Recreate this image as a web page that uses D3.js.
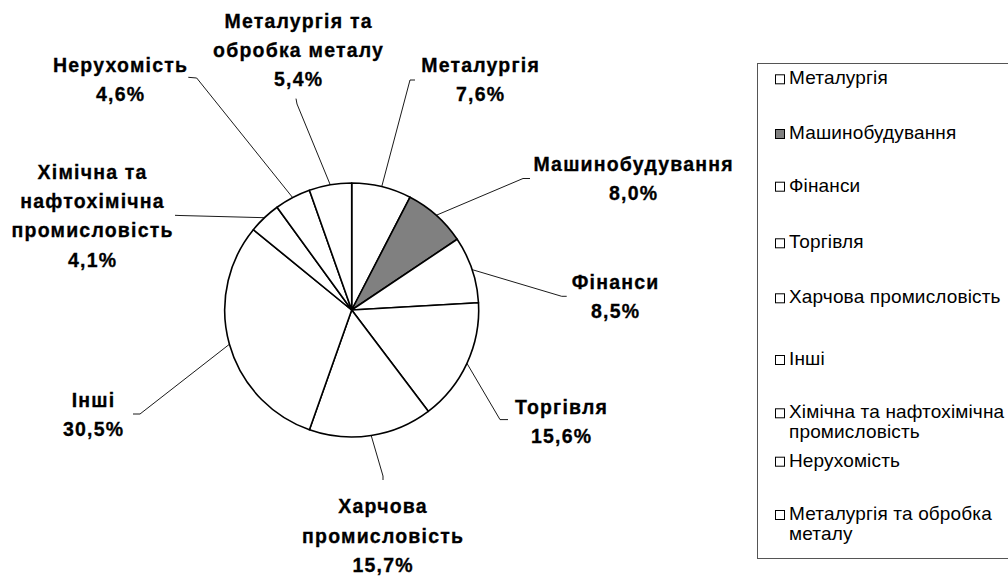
<!DOCTYPE html>
<html><head><meta charset="utf-8">
<script src="https://cdn.jsdelivr.net/npm/d3@7"></script>
<style>body{margin:0;background:#fff} svg{display:block}</style>
</head><body>
<svg id="chart" width="1008" height="577"></svg>
<script>
// ---- data ----
const categories = ["Металургія","Машинобудування","Фінанси","Торгівля","Харчова промисловість","Інші","Хімічна та нафтохімічна промисловість","Нерухомість","Металургія та обробка металу"];
const values = [7.6, 8.0, 8.5, 15.6, 15.7, 30.5, 4.1, 4.6, 5.4];
const sliceFills = ["#ffffff","#808080","#ffffff","#ffffff","#ffffff","#ffffff","#ffffff","#ffffff","#ffffff"];
const labelLines = [["Металургія"],["Машинобудування"],["Фінанси"],["Торгівля"],["Харчова","промисловість"],["Інші"],["Хімічна та","нафтохімічна","промисловість"],["Нерухомість"],["Металургія та","обробка металу"]];
const legendLines = [["Металургія"],["Машинобудування"],["Фінанси"],["Торгівля"],["Харчова промисловість"],["Інші"],["Хімічна та нафтохімічна","промисловість"],["Нерухомість"],["Металургія та обробка","металу"]];

// ---- layout ----
const cx = 351.7, cy = 310, R = 127;
const labelPos = [[480,71.8],[633,171],[615,289],[561,414],[382.5,513.4],[93,406.7],[92,178.5],[120,71.8],[298,27.6]];
const leaderPts = [
  [[410,80],[415,80]],
  [[523,178.5],[530,178.5]],
  [[561.7,296.3],[566.7,296.3]],
  [[500,419.6],[508,419.6]],
  [[383,476],[383,480]],
  [[140,414],[133,414]],
  [[180,215.5],[175,215.3]],
  [[196.7,78],[188.3,77.3]],
  [[297,104],[296,98.6]]
];
const legendBaselines = [84.3,139,191.7,248.3,303.3,365,418.3,466.7,520];

const svg = d3.select("#chart");
const fmt = v => d3.format(".1f")(v).replace(".", ",") + "%";

const pie = d3.pie().sort(null).value(d => d)(values);
const arc = d3.arc().innerRadius(0).outerRadius(R);
const edge = d3.arc().innerRadius(R).outerRadius(R);

const g = svg.append("g").attr("transform", `translate(${cx},${cy})`);
g.selectAll("path.slice").data(pie).join("path")
  .attr("class","slice")
  .attr("d", arc)
  .attr("fill", (d,i) => sliceFills[i])
  .attr("stroke", "#000")
  .attr("stroke-width", 1.6)
  .attr("stroke-linejoin","round");

// leader lines
const line = d3.line();
svg.selectAll("path.leader").data(pie).join("path")
  .attr("class","leader")
  .attr("d", (d,i) => {
    const c = edge.centroid(d);
    return line([[cx + c[0], cy + c[1]], ...leaderPts[i]]);
  })
  .attr("fill","none")
  .attr("stroke","#000")
  .attr("stroke-width",0.9);

// data labels
const lh = 29.4;
pie.forEach((d,i) => {
  const lines = labelLines[i].concat([fmt(values[i])]);
  const t = svg.append("text")
    .attr("text-anchor","middle")
    .attr("font-family","'Liberation Sans', Arial, sans-serif")
    .attr("font-weight","bold")
    .attr("font-size","19.5px")
    .attr("letter-spacing","1.2px")
    .attr("stroke","#000")
    .attr("stroke-width",0.3)
    .attr("fill","#000");
  lines.forEach((s,k) => {
    t.append("tspan").attr("x", labelPos[i][0] + 0.6).attr("y", labelPos[i][1] + k*lh).text(s);
  });
});

// legend
svg.append("rect").attr("x",757.5).attr("y",63.5).attr("width",270).attr("height",495)
  .attr("fill","#fff").attr("stroke","#555").attr("stroke-width",1);
const lg = svg.append("g");
categories.forEach((c,i) => {
  const y = legendBaselines[i];
  lg.append("rect").attr("x",775.5).attr("y",y-9.5).attr("width",9).attr("height",9)
    .attr("fill", sliceFills[i]).attr("stroke","#000").attr("stroke-width",1);
  const t = lg.append("text")
    .attr("font-family","'Liberation Sans', Arial, sans-serif")
    .attr("font-size","19px")
    .attr("letter-spacing","0.15px")
    .attr("fill","#000");
  legendLines[i].forEach((s,k) => {
    t.append("tspan").attr("x", 789).attr("y", y + k*20).text(s);
  });
});
</script>
</body></html>
